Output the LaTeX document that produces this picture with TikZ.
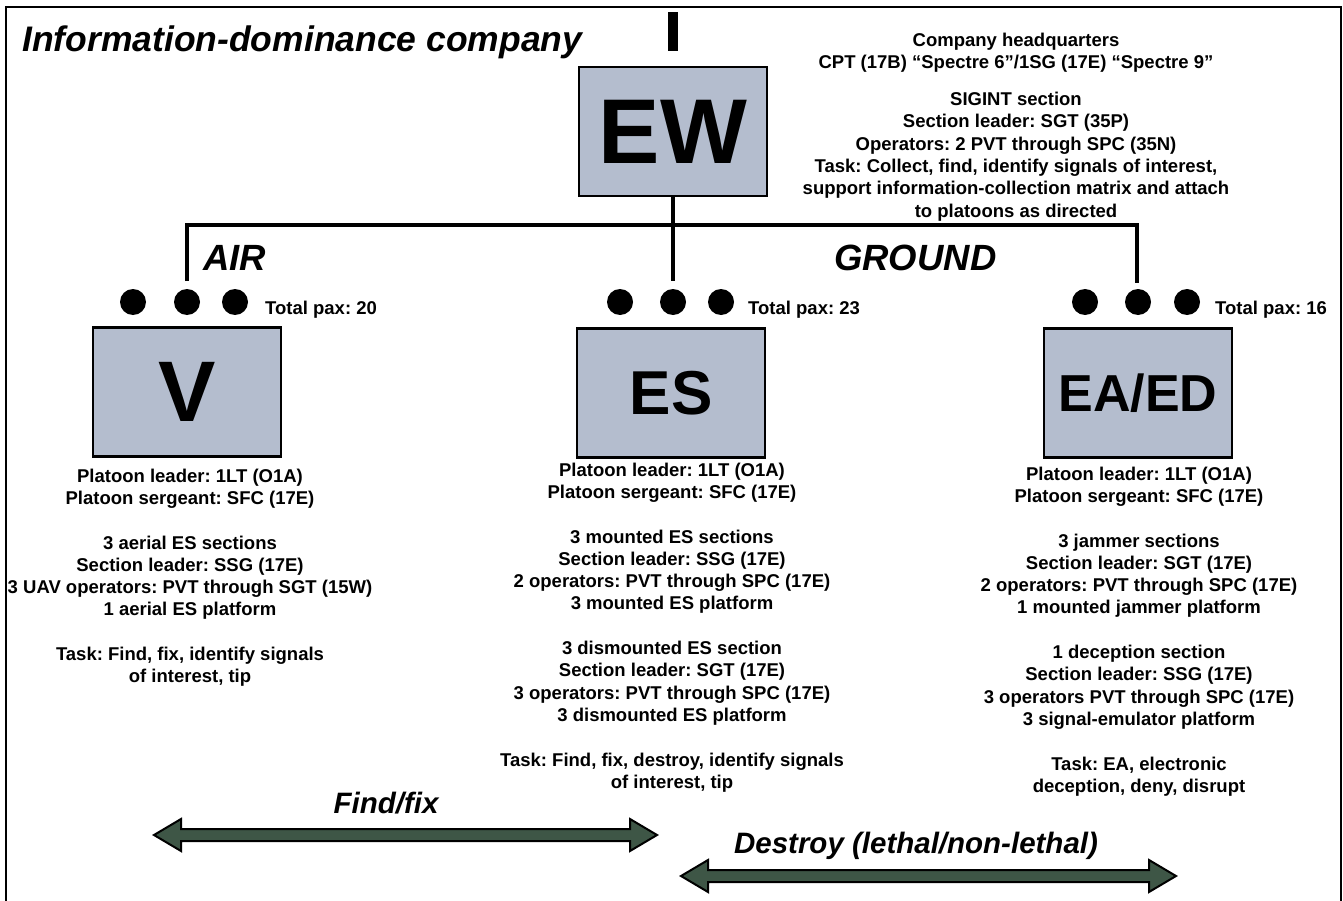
\documentclass[tikz,border=0pt]{standalone}
\usepackage{fontspec}
\setmainfont{Liberation Sans}
\usetikzlibrary{calc}
\definecolor{boxfill}{HTML}{B4BDCE}
\definecolor{arrfill}{HTML}{3E5646}
\frenchspacing
\begin{document}
\begin{tikzpicture}[x=1pt,y=-1pt,
  unitbox/.style={draw=black,line width=2.5pt,fill=boxfill,minimum width=188pt,minimum height=129pt,inner sep=0pt},
  info/.style={align=center,inner sep=0pt,anchor=north,font=\fontsize{18.5}{22.3}\selectfont\bfseries},
  paxlabel/.style={anchor=base west,inner sep=0pt,font=\fontsize{18.5}{22}\selectfont\bfseries},
  bigital/.style={inner sep=0pt,font=\fontsize{35.5}{40}\selectfont\bfseries\itshape},
  armlabel/.style={inner sep=0pt,font=\fontsize{36.5}{40}\selectfont\bfseries\itshape},
  arrlabel/.style={inner sep=0pt,anchor=base,font=\fontsize{29.5}{34}\selectfont\bfseries\itshape},
  conn/.style={line width=4pt,draw=black},
  dot/.style={circle,fill=black,minimum size=26pt,inner sep=0pt},
  dblarrow/.style={draw=black,line width=2pt,fill=arrfill,line join=miter}]
\useasboundingbox (0,0) rectangle (1343,901);
\fill[white] (0,0) rectangle (1343,901);
\begin{scope}
\clip (0,0) rectangle (1343,901);
\draw[line width=2.5pt] (6,7) rectangle (1341,960);
\end{scope}

% title
\node[bigital,anchor=base west] (title) at (22,52) {Information-dominance company};

% EW
\node[unitbox,anchor=north] (ew) at (673,66) {\fontsize{92}{94}\selectfont\bfseries EW};
\fill[black] (668,12) rectangle (678,51);
\coordinate (ewsym) at (673,12);

\node[info] (hq) at (1016,33) {Company headquarters\\CPT (17B) “Spectre 6”/1SG (17E) “Spectre 9”};
\node[info] (sigint) at (1016,92) {SIGINT section\\Section leader: SGT (35P)\\Operators: 2 PVT through SPC (35N)\\Task: Collect, find, identify signals of interest,\\support information-collection matrix and attach\\to platoons as directed};

% connectors
\coordinate (jl) at (187,225);
\coordinate (jr) at (1137,225);
\coordinate (el) at (187,281);
\coordinate (em) at (673,281);
\coordinate (er) at (1137,283);
\draw[conn] (el) -- (jl) -- (jr) -- (er);
\draw[conn] (ew.south) -- (em);

\node[armlabel,anchor=base west] (air) at (203,270) {AIR};
\node[armlabel,anchor=base west] (ground) at (834,270) {GROUND};

% dots
\node[dot] (vd1) at (133,302) {};
\node[dot] (vd2) at (187,302) {};
\node[dot] (vd3) at (235,302) {};
\node[dot] (ed1) at (620,302) {};
\node[dot] (ed2) at (673,302) {};
\node[dot] (ed3) at (721,302) {};
\node[dot] (ad1) at (1085,302) {};
\node[dot] (ad2) at (1138,302) {};
\node[dot] (ad3) at (1187,302) {};

\node[paxlabel] (vpax) at (265,314) {Total pax: 20};
\node[paxlabel] (epax) at (748,314) {Total pax: 23};
\node[paxlabel] (apax) at (1215,314) {Total pax: 16};

% platoon boxes
\node[unitbox,anchor=north] (v) at (187,326) {\fontsize{86}{88}\selectfont\bfseries V};
\node[unitbox,anchor=north] (es) at (671,327) {\fontsize{62}{64}\selectfont\bfseries ES};
\node[unitbox,anchor=north] (ea) at (1138,327) {\fontsize{52}{56}\selectfont\bfseries EA/ED};

\node[info] (vtxt) at (190,468.5) {Platoon leader: 1LT (O1A)\\Platoon sergeant: SFC (17E)\\[22.3pt]3 aerial ES sections\\Section leader: SSG (17E)\\3 UAV operators: PVT through SGT (15W)\\1 aerial ES platform\\[22.3pt]Task: Find, fix, identify signals\\of interest, tip};
\node[info] (estxt) at (672,462.5) {Platoon leader: 1LT (O1A)\\Platoon sergeant: SFC (17E)\\[22.3pt]3 mounted ES sections\\Section leader: SSG (17E)\\2 operators: PVT through SPC (17E)\\3 mounted ES platform\\[22.3pt]3 dismounted ES section\\Section leader: SGT (17E)\\3 operators: PVT through SPC (17E)\\3 dismounted ES platform\\[22.3pt]Task: Find, fix, destroy, identify signals\\of interest, tip};
\node[info] (eatxt) at (1139,466.5) {Platoon leader: 1LT (O1A)\\Platoon sergeant: SFC (17E)\\[22.3pt]3 jammer sections\\Section leader: SGT (17E)\\2 operators: PVT through SPC (17E)\\1 mounted jammer platform\\[22.3pt]1 deception section\\Section leader: SSG (17E)\\3 operators PVT through SPC (17E)\\3 signal-emulator platform\\[22.3pt]Task: EA, electronic\\deception, deny, disrupt};

% redraw left frame edge over clipped text
\draw[line width=2.5pt] (6,7) -- (6,901);

% arrows
\coordinate (f1) at (154,835);
\coordinate (f2) at (657,835);
\coordinate (d1) at (681,876);
\coordinate (d2) at (1176,876);
\draw[dblarrow] (f1) -- ($(f1)+(27,-16)$) -- ($(f1)+(27,-6)$) -- ($(f2)+(-27,-6)$) -- ($(f2)+(-27,-16)$) -- (f2) -- ($(f2)+(-27,16)$) -- ($(f2)+(-27,6)$) -- ($(f1)+(27,6)$) -- ($(f1)+(27,16)$) -- cycle;
\draw[dblarrow] (d1) -- ($(d1)+(27,-16)$) -- ($(d1)+(27,-6)$) -- ($(d2)+(-27,-6)$) -- ($(d2)+(-27,-16)$) -- (d2) -- ($(d2)+(-27,16)$) -- ($(d2)+(-27,6)$) -- ($(d1)+(27,6)$) -- ($(d1)+(27,16)$) -- cycle;
\node[arrlabel] (findfix) at (386,813) {Find/fix};
\node[arrlabel] (destroy) at (916,853) {Destroy (lethal/non-lethal)};
\end{tikzpicture}
\end{document}
